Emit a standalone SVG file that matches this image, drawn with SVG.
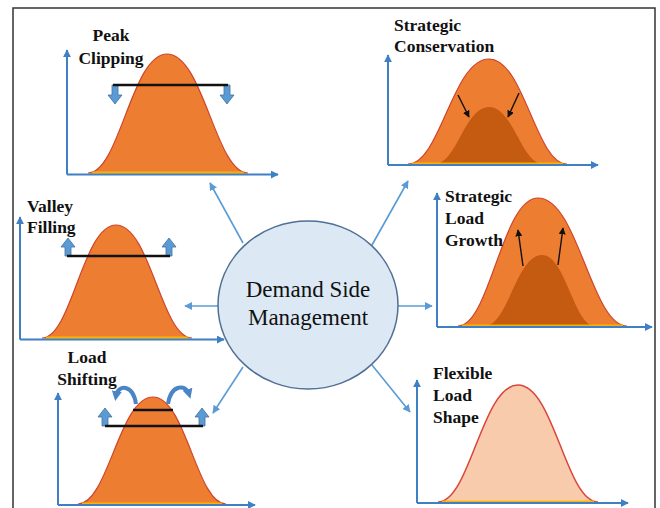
<svg xmlns="http://www.w3.org/2000/svg" width="660" height="508" viewBox="0 0 660 508">
<style>
.lbl{font-family:"Liberation Serif","Times New Roman",serif;font-weight:bold;font-size:17.5px;fill:#111}
.ctr{font-family:"Liberation Serif","Times New Roman",serif;font-size:23px;fill:#111}
.axis{stroke:#3f7fc4;stroke-width:2;fill:none}
.conn{stroke:#5b9bd5;stroke-width:1.6;fill:none}
.main{fill:#ed7d31;stroke:#d0452c;stroke-width:1.2}
.inner{fill:#c55a11;stroke:none}
.flex{fill:#f8cbad;stroke:#d9463b;stroke-width:1.5}
.base{stroke:#ffc000;stroke-width:3;opacity:0.85}
.bar{stroke:#111;stroke-width:2.5}
.blk{stroke:#111;stroke-width:1.4;fill:none}
.blk-arrow{fill:#5b9bd5;stroke:#41719c;stroke-width:0.8}
.curl{stroke:#4a86c5;stroke-width:4;fill:none}
</style>
<defs>
<marker id="ah" viewBox="0 0 10 10" refX="9" refY="5" markerWidth="8" markerHeight="8" markerUnits="userSpaceOnUse" orient="auto"><path d="M0,0 L10,5 L0,10 Z" fill="#3f7fc4"/></marker>
<marker id="ahc" viewBox="0 0 10 10" refX="9" refY="5" markerWidth="8" markerHeight="8" markerUnits="userSpaceOnUse" orient="auto"><path d="M0,0 L10,5 L0,10 Z" fill="#5b9bd5"/></marker>
<marker id="ahk" viewBox="0 0 10 10" refX="9" refY="5" markerWidth="7" markerHeight="7" markerUnits="userSpaceOnUse" orient="auto"><path d="M0,0 L10,5 L0,10 Z" fill="#111"/></marker>
<marker id="ahb" viewBox="0 0 10 10" refX="5" refY="5" markerWidth="10" markerHeight="10" markerUnits="userSpaceOnUse" orient="auto"><path d="M0,0 L10,5 L0,10 Z" fill="#4a86c5"/></marker>
<polygon id="down" points="-3,0 3,0 3,10 7,10 0,19 -7,10 -3,10"/>
<polygon id="up" points="-3,0 3,0 3,-9 7,-9 0,-18 -7,-9 -3,-9"/>
</defs>
<rect width="660" height="508" fill="#fff"/>
<path d="M13,508 V8 H655 V508" fill="none" stroke="#333" stroke-width="1.5"/>

<g id="connectors">
<line class="conn" x1="243" y1="243" x2="210" y2="183" marker-end="url(#ahc)"/>
<line class="conn" x1="218" y1="306" x2="185" y2="306" marker-end="url(#ahc)"/>
<line class="conn" x1="372" y1="245" x2="408" y2="181" marker-end="url(#ahc)"/>
<line class="conn" x1="398" y1="306" x2="432" y2="306" marker-end="url(#ahc)"/>
<line class="conn" x1="243" y1="367" x2="213" y2="413" marker-end="url(#ahc)"/>
<line class="conn" x1="372" y1="365" x2="410" y2="412" marker-end="url(#ahc)"/>
</g>

<g id="center">
<ellipse cx="308" cy="305" rx="90" ry="84" fill="#dce9f5" stroke="#4f6f94" stroke-width="1.5"/>
<text class="ctr" x="308" y="297" text-anchor="middle">Demand Side</text>
<text class="ctr" x="308" y="325" text-anchor="middle">Management</text>
</g>

<g id="peak-clipping">
<path class="main" d="M88,173 C119.6,173 131.45,54 167,54 C203.45,54 215.6,173 248,173 Z"/>
<line class="base" x1="92" y1="173" x2="244" y2="173"/>
<line class="axis" x1="67" y1="174.5" x2="67" y2="50" marker-end="url(#ah)"/>
<line class="axis" x1="67" y1="174.5" x2="278" y2="174.5" marker-end="url(#ah)"/>
<use href="#down" class="blk-arrow" transform="translate(115,85)"/>
<use href="#down" class="blk-arrow" transform="translate(227,85)"/>
<line class="bar" x1="113" y1="85" x2="228" y2="85"/>
<text class="lbl" x="111" y="41" text-anchor="middle">Peak</text>
<text class="lbl" x="111" y="64" text-anchor="middle">Clipping</text>
</g>

<g id="strategic-conservation">
<path class="main" d="M408,164 C440.4,164 452.55,59 489,59 C524.1,59 535.8,164 567,164 Z"/>
<path class="inner" d="M435,164 C456.6,164 464.7,107 489,107 C513.3,107 521.4,164 543,164 Z"/>
<line class="base" x1="412" y1="164" x2="563" y2="164"/>
<line class="axis" x1="388" y1="165" x2="388" y2="55" marker-end="url(#ah)"/>
<line class="axis" x1="388" y1="165" x2="598" y2="165" marker-end="url(#ah)"/>
<line class="blk" x1="458" y1="95" x2="469" y2="117" marker-end="url(#ahk)"/>
<line class="blk" x1="519" y1="93" x2="508" y2="117" marker-end="url(#ahk)"/>
<text class="lbl" x="394" y="31">Strategic</text>
<text class="lbl" x="394" y="52">Conservation</text>
</g>

<g id="valley-filling">
<path class="main" d="M42,338 C71.6,338 82.7,225 116,225 C150.2,225 161.6,338 192,338 Z" stroke="none"/>
<line class="base" x1="46" y1="338" x2="188" y2="338"/>
<line class="axis" x1="20" y1="339.5" x2="20" y2="217" marker-end="url(#ah)"/>
<line class="axis" x1="20" y1="339.5" x2="224" y2="339.5" marker-end="url(#ah)"/>
<use href="#up" class="blk-arrow" transform="translate(68,256)"/>
<use href="#up" class="blk-arrow" transform="translate(169,256)"/>
<line class="bar" x1="67" y1="256" x2="170" y2="256"/>
<text class="lbl" x="27" y="212">Valley</text>
<text class="lbl" x="27" y="233">Filling</text>
</g>

<g id="strategic-load-growth">
<path class="main" d="M458,326 C490,326 502,198 538,198 C578,198 591.4,326 627,326 Z"/>
<path class="inner" d="M485,326 C507.8,326 516.35,255 542,255 C565.85,255 573.8,326 595,326 Z"/>
<line class="base" x1="462" y1="326" x2="623" y2="326"/>
<line class="axis" x1="437" y1="327" x2="437" y2="193" marker-end="url(#ah)"/>
<line class="axis" x1="437" y1="327" x2="652" y2="327" marker-end="url(#ah)"/>
<line class="blk" x1="523" y1="266" x2="518" y2="230" marker-end="url(#ahk)"/>
<line class="blk" x1="558" y1="265" x2="563" y2="228" marker-end="url(#ahk)"/>
<text class="lbl" x="445" y="202">Strategic</text>
<text class="lbl" x="445" y="224">Load</text>
<text class="lbl" x="445" y="246">Growth</text>
</g>

<g id="load-shifting">
<path class="main" d="M78,504 C108,504 119.25,397 153,397 C185.85,397 196.8,504 226,504 Z"/>
<line class="base" x1="82" y1="504" x2="222" y2="504"/>
<line class="axis" x1="58" y1="505" x2="58" y2="393" marker-end="url(#ah)"/>
<line class="axis" x1="58" y1="505" x2="255" y2="505" marker-end="url(#ah)"/>
<use href="#up" class="blk-arrow" transform="translate(105,426)"/>
<use href="#up" class="blk-arrow" transform="translate(202,426)"/>
<line class="bar" x1="105" y1="426" x2="203" y2="426"/>
<line class="bar" x1="133" y1="410" x2="173" y2="410"/>
<path class="curl" d="M136,404 C133,384 118,384 116,396" marker-end="url(#ahb)"/>
<path class="curl" d="M168,404 C171,384 186,384 189,394" marker-end="url(#ahb)"/>
<text class="lbl" x="87" y="363" text-anchor="middle">Load</text>
<text class="lbl" x="87" y="385" text-anchor="middle">Shifting</text>
</g>

<g id="flexible-load-shape">
<path class="flex" d="M438,502 C470,502 482,385 518,385 C554,385 566,502 598,502 Z"/>
<line class="base" x1="442" y1="502" x2="594" y2="502"/>
<line class="axis" x1="417" y1="503" x2="417" y2="380" marker-end="url(#ah)"/>
<line class="axis" x1="417" y1="503" x2="628" y2="503" marker-end="url(#ah)"/>
<text class="lbl" x="433" y="379">Flexible</text>
<text class="lbl" x="433" y="401">Load</text>
<text class="lbl" x="433" y="423">Shape</text>
</g>
</svg>
